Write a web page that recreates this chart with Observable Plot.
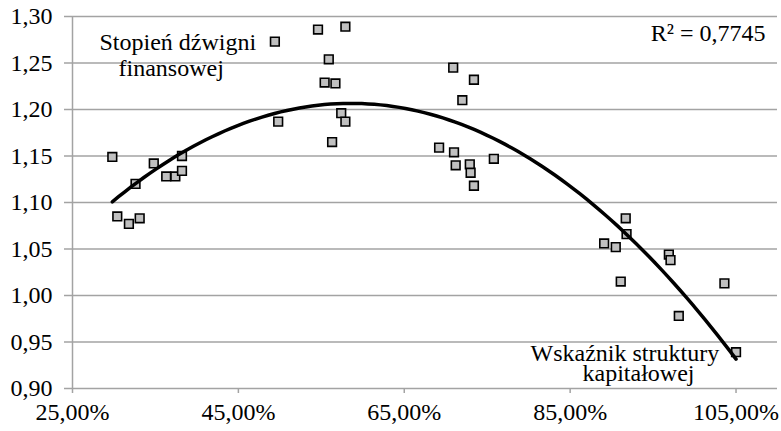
<!DOCTYPE html>
<html>
<head>
<meta charset="utf-8">
<script src="https://cdn.jsdelivr.net/npm/d3@7"></script>
<script src="https://cdn.jsdelivr.net/npm/@observablehq/plot@0.6"></script>
<style>
  html, body { margin: 0; padding: 0; background: #fff; overflow: hidden; }
</style>
</head>
<body>
<div id="chart"></div>
<script>
// Wskaźnik struktury kapitałowej (%)
const capitalRatio = [
  29.8, 32.6, 34.8, 36.3, 37.4, 38.2, 38.2, 30.4, 31.8, 33.1,
  49.4, 54.6, 57.9, 55.9, 55.4, 56.7, 57.4, 57.9, 49.8, 56.3,
  70.9, 73.4, 72.0, 69.2, 71.0, 71.2, 72.9, 73.0, 73.4, 75.8,
  91.7, 91.8, 89.1, 90.5, 96.9, 97.1, 91.1, 103.6, 98.1, 105.0
];
// Stopień dźwigni finansowej
const leverage = [
  1.149, 1.120, 1.142, 1.128, 1.128, 1.150, 1.134, 1.085, 1.077, 1.083,
  1.273, 1.286, 1.289, 1.254, 1.229, 1.228, 1.196, 1.187, 1.187, 1.165,
  1.245, 1.232, 1.210, 1.159, 1.154, 1.140, 1.141, 1.132, 1.118, 1.147,
  1.083, 1.066, 1.056, 1.052, 1.044, 1.038, 1.015, 1.013, 0.978, 0.939
];
const xTicks = [25, 45, 65, 85, 105];
const yTicks = [0.90, 0.95, 1.00, 1.05, 1.10, 1.15, 1.20, 1.25, 1.30];
const yLabel = ["Stopień dźwigni", "finansowej"];
const xLabel = ["Wskaźnik struktury", "kapitałowej"];
const r2Label = "R² = 0,7745";

const points = capitalRatio.map((x, i) => ({x, y: leverage[i]}));

// Polynomial (order 2) least-squares trendline, as in the source spreadsheet
function quadFit(pts) {
  let s = [0,0,0,0,0], t = [0,0,0];
  for (const {x, y} of pts) {
    let p = 1;
    for (let k = 0; k < 5; k++) { s[k] += p; if (k < 3) t[k] += p * y; p *= x; }
  }
  const A = [[s[0], s[1], s[2], t[0]], [s[1], s[2], s[3], t[1]], [s[2], s[3], s[4], t[2]]];
  for (let i = 0; i < 3; i++) {
    for (let j = i + 1; j < 3; j++) {
      const f = A[j][i] / A[i][i];
      for (let k = i; k < 4; k++) A[j][k] -= f * A[i][k];
    }
  }
  const c = [0,0,0];
  for (let i = 2; i >= 0; i--) {
    let v = A[i][3];
    for (let k = i + 1; k < 3; k++) v -= A[i][k] * c[k];
    c[i] = v / A[i][i];
  }
  return c;
}
const coef = quadFit(points);
const [xmin, xmax] = d3.extent(capitalRatio);
const trend = d3.range(0, 101).map(i => {
  const x = xmin + (xmax - xmin) * i / 100;
  return {x, y: coef[0] + coef[1] * x + coef[2] * x * x};
});

const fmtX = d => d.toFixed(2).replace(".", ",") + "%";
const fmtY = d => d.toFixed(2).replace(".", ",");
const grid = "#a3a3a3";
const font = "'Liberation Serif', serif";

const chart = Plot.plot({
  width: 781,
  height: 431,
  marginLeft: 72,
  marginRight: 4,
  marginTop: 16,
  marginBottom: 43,
  style: {fontFamily: font, fontSize: "24px"},
  x: {domain: [25, 110], ticks: xTicks, tickFormat: fmtX},
  y: {domain: [0.9, 1.3], ticks: yTicks, tickFormat: fmtY},
  marks: [
    Plot.ruleY(yTicks, {x1: 25, x2: 110, stroke: grid, strokeWidth: 1.5}),
    Plot.ruleX([25], {stroke: grid, strokeWidth: 1.5}),
    Plot.axisY({ticks: yTicks, tickFormat: fmtY, tickSize: 8, tickPadding: 12, stroke: grid, strokeWidth: 1.5, strokeOpacity: 1, fill: "#000", fontSize: 24, fontFamily: font, label: null}),
    Plot.axisX({ticks: xTicks, tickFormat: fmtX, tickSize: 5, tickPadding: 9, stroke: grid, strokeWidth: 1.5, strokeOpacity: 1, fill: "#000", fontSize: 24, fontFamily: font, label: null}),
    Plot.dot(points, {x: "x", y: "y", symbol: "square", r: 4.9, fill: "#c0c0c0", stroke: "#000", strokeWidth: 1.6}),
    Plot.line(trend, {x: "x", y: "y", stroke: "#000", strokeWidth: 3.5, curve: "linear"}),
    Plot.text([yLabel[0]], {frameAnchor: "top-left", textAnchor: "start", lineAnchor: "bottom", dx: 27, dy: 33, fontSize: 24, fontFamily: font, fill: "#000"}),
    Plot.text([yLabel[1]], {frameAnchor: "top-left", textAnchor: "start", lineAnchor: "bottom", dx: 46, dy: 59, fontSize: 24, fontFamily: font, fill: "#000"}),
    Plot.text([r2Label], {frameAnchor: "top-right", textAnchor: "end", lineAnchor: "bottom", dx: -12, dy: 24, fontSize: 24, fontFamily: font, fill: "#000"}),
    Plot.text([xLabel[0]], {frameAnchor: "bottom-left", textAnchor: "start", lineAnchor: "bottom", dx: 458, dy: -28, fontSize: 24, fontFamily: font, fill: "#000"}),
    Plot.text([xLabel[1]], {frameAnchor: "bottom-left", textAnchor: "start", lineAnchor: "bottom", dx: 510, dy: -8, fontSize: 24, fontFamily: font, fill: "#000"})
  ]
});
chart.setAttribute("font-family", "Liberation Serif, serif");
chart.querySelectorAll("g").forEach(g => { if (g.hasAttribute("font-family")) g.setAttribute("font-family", "Liberation Serif, serif"); });
document.getElementById("chart").appendChild(chart);
</script>
</body>
</html>
